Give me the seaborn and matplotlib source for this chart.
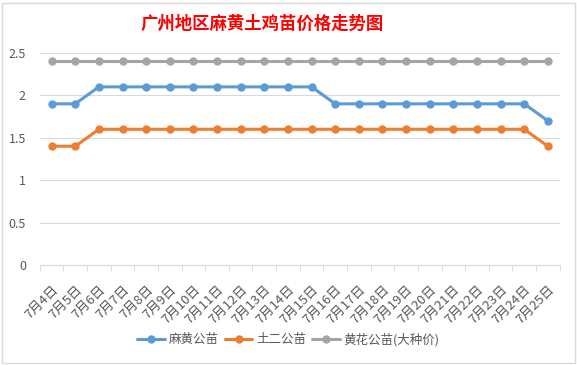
import numpy as np
import pandas as pd
import seaborn as sns
import matplotlib.pyplot as plt
from matplotlib.patches import Rectangle

# data
dates = ['7月4日', '7月5日', '7月6日', '7月7日', '7月8日', '7月9日', '7月10日', '7月11日',
         '7月12日', '7月13日', '7月14日', '7月15日', '7月16日', '7月17日', '7月18日',
         '7月19日', '7月20日', '7月21日', '7月22日', '7月23日', '7月24日', '7月25日']
mahuang = [1.9, 1.9, 2.1, 2.1, 2.1, 2.1, 2.1, 2.1, 2.1, 2.1, 2.1, 2.1,
           1.9, 1.9, 1.9, 1.9, 1.9, 1.9, 1.9, 1.9, 1.9, 1.7]
tuer = [1.4, 1.4, 1.6, 1.6, 1.6, 1.6, 1.6, 1.6, 1.6, 1.6, 1.6, 1.6,
        1.6, 1.6, 1.6, 1.6, 1.6, 1.6, 1.6, 1.6, 1.6, 1.4]
huanghua = [2.4] * 22
series_names = ['麻黄公苗', '土二公苗', '黄花公苗(大种价)']
colors = ['#5B9BD5', '#ED7D31', '#A5A5A5']

sns.set_style('white')
plt.rcParams['font.family'] = ['Noto Sans CJK SC', 'DejaVu Sans']

df = pd.DataFrame({'idx': np.arange(len(dates)),
                   series_names[0]: mahuang,
                   series_names[1]: tuer,
                   series_names[2]: huanghua})
long_df = df.melt(id_vars='idx', var_name='series', value_name='price')

fig = plt.figure(figsize=(5.77, 3.65), dpi=100)
ax = fig.add_axes([0.069, 0.274, 0.901, 0.581])

sns.lineplot(data=long_df, x='idx', y='price', hue='series', palette=colors,
             marker='o', markersize=6, markeredgewidth=0, linewidth=2.2, ax=ax)

ax.set_xlim(-0.5, len(dates) - 0.5)
ax.set_ylim(0, 2.5)
ax.set_yticks([0, 0.5, 1, 1.5, 2, 2.5])
ax.set_yticklabels(['0', '0.5', '1', '1.5', '2', '2.5'])
ax.yaxis.grid(True, color='#D9D9D9', linewidth=0.8)
ax.set_axisbelow(True)
ax.set_xlabel('')
ax.set_ylabel('')

ax.set_xticks(np.arange(len(dates)))
ax.set_xticklabels(dates, rotation=45, ha='right', rotation_mode='anchor')
ax.set_xticks(np.arange(len(dates) + 1) - 0.5, minor=True)
ax.tick_params(axis='x', which='major', length=0, pad=13, labelsize=9.5, labelcolor='#595959')
ax.tick_params(axis='x', which='minor', length=4, color='#D9D9D9', bottom=True)
ax.tick_params(axis='y', length=0, labelsize=9, labelcolor='#595959', pad=10)

for s in ['top', 'right', 'left']:
    ax.spines[s].set_visible(False)
ax.spines['bottom'].set_color('#D9D9D9')

handles, labels = ax.get_legend_handles_labels()
ax.legend(handles, labels, loc='center', bbox_to_anchor=(0.5, 0.07),
          bbox_transform=fig.transFigure, ncol=3, frameon=False,
          fontsize=9, labelcolor='#595959', handlelength=2.2, columnspacing=0.5,
          handletextpad=0.3)

fig.text(0.454, 0.934, '广州地区麻黄土鸡苗价格走势图', ha='center', va='center',
         color='red', fontsize=12.5, fontweight='bold')

fig.patches.append(Rectangle((0.004, 0.006), 0.992, 0.986, transform=fig.transFigure,
                             fill=False, edgecolor='#D9D9D9', linewidth=1))

fig.savefig('out.png', dpi=100)
